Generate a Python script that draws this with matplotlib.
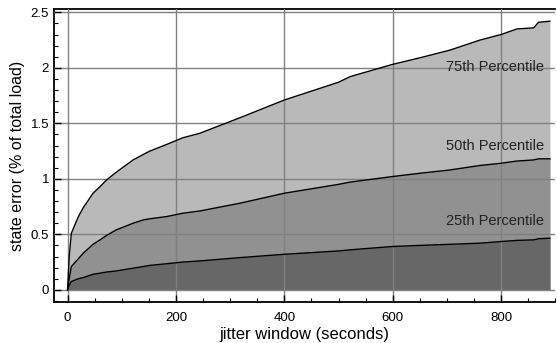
import matplotlib
matplotlib.use("Agg")
import matplotlib.pyplot as plt
from matplotlib.ticker import MultipleLocator

plt.rcParams["font.family"] = ["Liberation Sans", "DejaVu Sans"]

# jitter window (seconds) and the state error percentiles (% of total load)
window = [0, 3, 7, 20, 29, 47, 60, 72, 90, 121, 140, 152, 183, 213, 244,
          318, 400, 500, 521, 599, 650, 706, 761, 800, 829, 860, 869, 890]
p75 = [0, 0.30, 0.51, 0.66, 0.74, 0.87, 0.93, 0.99, 1.06, 1.17, 1.22, 1.25,
       1.31, 1.37, 1.41, 1.55, 1.71, 1.87, 1.92, 2.03, 2.09, 2.16, 2.25,
       2.30, 2.35, 2.36, 2.41, 2.42]
p50 = [0, 0.10, 0.21, 0.28, 0.33, 0.41, 0.45, 0.49, 0.54, 0.60, 0.63, 0.64,
       0.66, 0.69, 0.71, 0.78, 0.87, 0.95, 0.97, 1.02, 1.05, 1.08, 1.12,
       1.14, 1.16, 1.17, 1.18, 1.18]
p25 = [0, 0.04, 0.075, 0.10, 0.11, 0.14, 0.15, 0.16, 0.17, 0.195, 0.21,
       0.22, 0.235, 0.25, 0.26, 0.29, 0.32, 0.35, 0.36, 0.39, 0.40, 0.41,
       0.42, 0.435, 0.445, 0.45, 0.46, 0.465]

labels = ["75th Percentile", "50th Percentile", "25th Percentile"]
label_y = [2.01, 1.30, 0.62]

fig = plt.figure(figsize=(5.57, 3.43), dpi=100)
ax = fig.add_axes([0.097, 0.1195, 0.9, 0.8543])

ax.fill_between(window, p75, color="#b9b9b9", lw=0, zorder=1)
ax.fill_between(window, p50, color="#919191", lw=0, zorder=1)
ax.fill_between(window, p25, color="#676767", lw=0, zorder=1)
for s in (p75, p50, p25):
    ax.plot(window, s, color="black", lw=1, zorder=3)

for txt, y in zip(labels, label_y):
    ax.text(879, y, txt, ha="right", va="center", fontsize=10.5,
            color="#222222", zorder=4)

ax.set_xlim(-25, 900)
ax.set_ylim(-0.11, 2.53)
ax.xaxis.set_major_locator(MultipleLocator(200))
ax.xaxis.set_minor_locator(MultipleLocator(50))
ax.yaxis.set_major_locator(MultipleLocator(0.5))
ax.yaxis.set_minor_locator(MultipleLocator(0.1))
ax.set_yticks([0, 0.5, 1, 1.5, 2, 2.5], ["0", "0.5", "1", "1.5", "2", "2.5"])
ax.tick_params(which="both", direction="in", labelsize=9.5, top=False,
               right=False)
ax.tick_params(axis="x", which="major", pad=7)
ax.tick_params(which="major", length=5, width=1)
ax.tick_params(which="minor", length=3, width=0.8)
ax.grid(True, which="major", color="#808080", lw=1, zorder=2)
ax.set_axisbelow(False)

for side in ("left", "bottom", "top"):
    ax.spines[side].set_linewidth(1.3)
ax.spines["right"].set_visible(False)

ax.set_xlabel("jitter window (seconds)", fontsize=12, labelpad=2)
ax.set_ylabel("state error (% of total load)", fontsize=11.5, labelpad=4)

fig.savefig("out.png", dpi=100)
